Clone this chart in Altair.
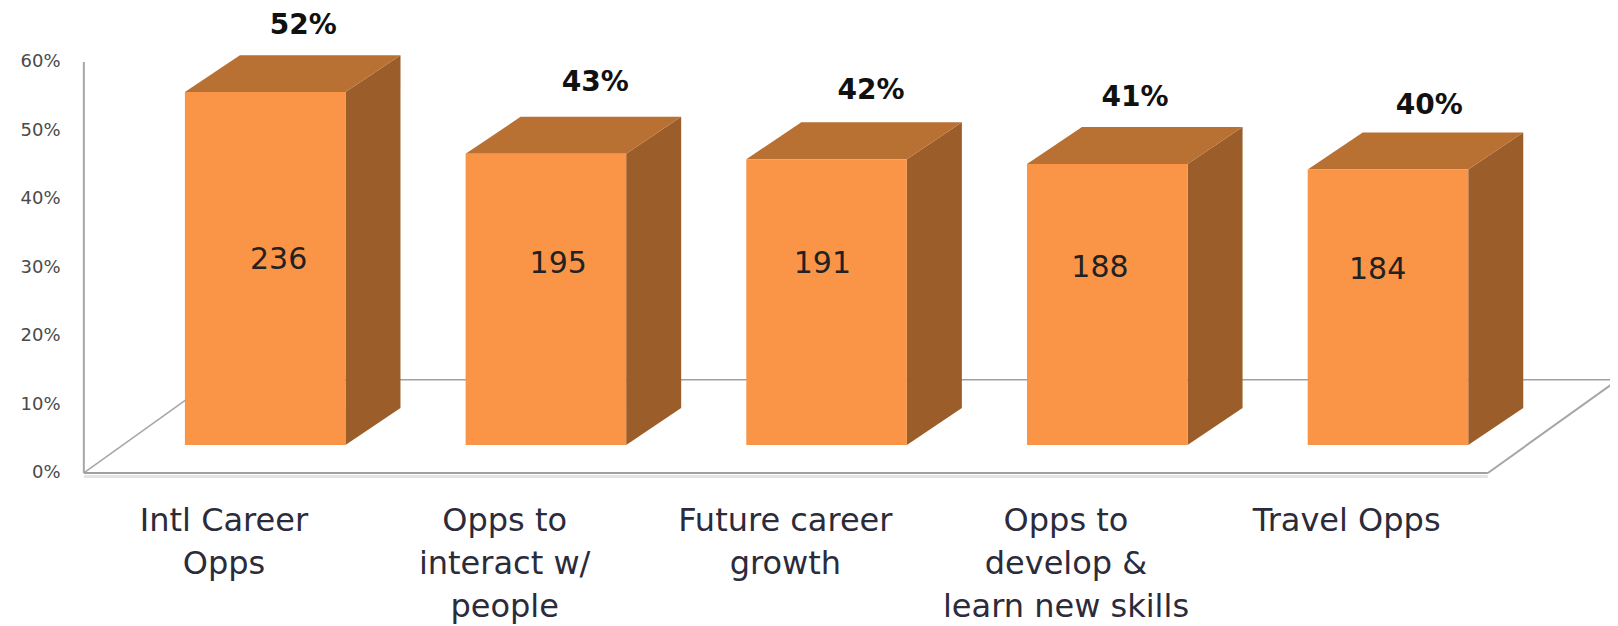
import altair as alt
import pandas as pd

categories = ["Intl Career\nOpps", "Opps to\ninteract w/\npeople", "Future career\ngrowth",
              "Opps to\ndevelop &\nlearn new skills", "Travel Opps"]
percent_labels = ["52%", "43%", "42%", "41%", "40%"]
counts = [236, 195, 191, 188, 184]
# visible front-face height of each bar, on the axis' own percent scale
bar_heights = [51.5, 42.5, 41.7, 41.0, 40.2]
y_ticks = [0, 10, 20, 30, 40, 50, 60]

# pseudo-3D layout, in axis units
BASE = 4.1
DEPTH_Y = 5.4
DEPTH_X = 0.196
BAR_W = 0.572
FLOOR_BACK = 13.6
count_dx = [0.048, 0.044, -0.015, -0.026, -0.037]
count_y = [31.1, 30.5, 30.5, 29.9, 29.6]
pct_dx = [0.136, 0.176, 0.158, 0.099, 0.147]
pct_y = [65.2, 56.9, 55.8, 54.7, 53.6]

front, side, top, counts_t, pct_t, cats = [], [], [], [], [], []
for i, (cat, p, c, h) in enumerate(zip(categories, percent_labels, counts, bar_heights)):
    l, r = i, i + BAR_W
    t = BASE + h
    front.append(dict(x=l, x2=r, y=BASE, y2=t))
    side += [dict(b=i, x=r, y=BASE, y2=t),
             dict(b=i, x=r + DEPTH_X, y=BASE + DEPTH_Y, y2=t + DEPTH_Y)]
    top += [dict(b=i, x=l, y=t, y2=t),
            dict(b=i, x=l + DEPTH_X, y=t, y2=t + DEPTH_Y),
            dict(b=i, x=r, y=t, y2=t + DEPTH_Y),
            dict(b=i, x=r + DEPTH_X, y=t + DEPTH_Y, y2=t + DEPTH_Y)]
    counts_t.append(dict(x=i + BAR_W / 2 + count_dx[i], y=count_y[i], t=str(c)))
    pct_t.append(dict(x=i + BAR_W / 2 + pct_dx[i], y=pct_y[i], t=p))
    cats.append(dict(x=i + 0.139, y=-4.8, t=cat))

xs = alt.X("x:Q", scale=alt.Scale(domain=[-0.445, 5.077], nice=False, zero=False), axis=None)
ys = alt.Y("y:Q", scale=alt.Scale(domain=[-22.34, 67.88], nice=False, zero=False),
           axis=alt.Axis(values=y_ticks, labelExpr="datum.value + '%'", domain=False, ticks=False,
                         grid=False, title=None, labelFont="DejaVu Sans", labelFontSize=18,
                         labelColor="#4a4a4a", labelPadding=0))
ysn = alt.Y("y:Q", scale=alt.Scale(domain=[-22.34, 67.88], nice=False, zero=False))


def segment(pts):
    return alt.Data(values=[dict(x=a, y=b) for a, b in pts])


wall = alt.Chart(segment([(-0.36, 0), (-0.36, 60)])).mark_line(color="#a6a6a6", strokeWidth=2).encode(x=xs, y=ys)
shadow = alt.Chart(segment([(-0.36, -0.5), (4.642, -0.5)])).mark_line(color="#e4e4e4", strokeWidth=3).encode(x=xs, y=ysn)
floor_front = alt.Chart(segment([(-0.36, 0), (4.642, 0)])).mark_line(color="#a0a0a0", strokeWidth=2).encode(x=xs, y=ysn)
floor_back = alt.Chart(segment([(0.103, FLOOR_BACK), (5.105, FLOOR_BACK)])).mark_line(color="#a0a0a0", strokeWidth=1.5).encode(x=xs, y=ysn)
floor_l = alt.Chart(segment([(-0.36, 0), (0.103, FLOOR_BACK)])).mark_line(color="#a6a6a6", strokeWidth=1.5).encode(x=xs, y=ysn)
floor_r = alt.Chart(segment([(4.642, 0), (5.105, FLOOR_BACK)])).mark_line(color="#a6a6a6", strokeWidth=2).encode(x=xs, y=ysn)

front_m = alt.Chart(pd.DataFrame(front)).mark_rect(color="#FA9547").encode(x=xs, x2="x2:Q", y=ysn, y2="y2:Q")
side_m = alt.Chart(pd.DataFrame(side)).mark_area(color="#9B5E2B").encode(x=xs, y=ysn, y2="y2:Q", detail="b:N")
top_m = alt.Chart(pd.DataFrame(top)).mark_area(color="#B87033").encode(x=xs, y=ysn, y2="y2:Q", detail="b:N")

count_m = alt.Chart(pd.DataFrame(counts_t)).mark_text(font="DejaVu Sans", fontSize=30, color="#222222").encode(
    x=xs, y=ysn, text="t:N")
pct_m = alt.Chart(pd.DataFrame(pct_t)).mark_text(font="DejaVu Sans", fontSize=28, fontWeight="bold", color="#111111").encode(
    x=xs, y=ysn, text="t:N")
cat_m = alt.Chart(pd.DataFrame(cats)).mark_text(font="DejaVu Sans", fontSize=32, color="#2b2b3a", baseline="top",
                                                lineBreak="\n", lineHeight=43).encode(x=xs, y=ysn, text="t:N")

chart = alt.layer(wall, shadow, floor_front, floor_back, floor_l, floor_r, side_m, top_m, front_m,
                  count_m, pct_m, cat_m).properties(
    width=1550, height=618,
    padding={"left": 52, "top": 0, "right": 0, "bottom": 0},
    autosize=alt.AutoSizeParams(type="none"),
).configure_view(stroke=None)

chart.save("out.html", embed_options={"renderer": "svg", "actions": False})
